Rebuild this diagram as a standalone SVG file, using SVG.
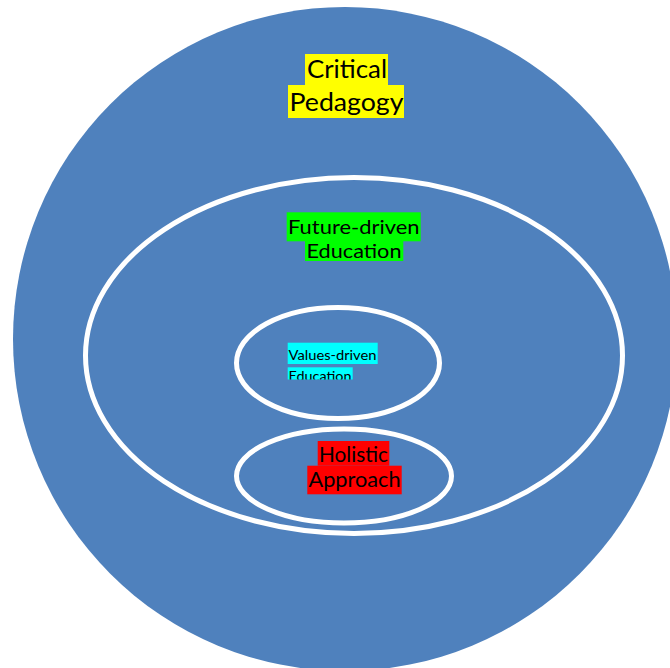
<svg xmlns="http://www.w3.org/2000/svg" width="670" height="668" viewBox="0 0 670 668">
<style>
.ring{fill:none;stroke:#ffffff;stroke-width:5}
.t{font-family:Lato,"Liberation Sans",sans-serif;fill:#000000}
</style>
<defs>
<clipPath id="vclip"><rect x="280" y="340" width="110" height="39.5"/></clipPath>
</defs>
<rect width="670" height="668" fill="#ffffff"/>
<g id="critical-pedagogy">
<circle cx="345" cy="339" r="332" fill="#4F81BD"/>
<rect x="305" y="54" width="83" height="31.5" fill="#FFFF00"/>
<rect x="288" y="85" width="116" height="33" fill="#FFFF00"/>
<text class="t" x="307" y="78" font-size="25.5" textLength="80" lengthAdjust="spacingAndGlyphs">Critical</text>
<text class="t" x="289.5" y="111" font-size="25.5" textLength="114" lengthAdjust="spacingAndGlyphs">Pedagogy</text>
</g>
<g id="future-driven-education">
<ellipse class="ring" cx="354" cy="355.5" rx="268.5" ry="178"/>
<rect x="286.7" y="212.3" width="134" height="29" fill="#00FF00"/>
<rect x="305" y="241" width="98.3" height="20" fill="#00FF00"/>
<text class="t" x="288" y="233.5" font-size="20" textLength="131.5" lengthAdjust="spacingAndGlyphs">Future-driven</text>
<text class="t" x="306.5" y="257.5" font-size="20" textLength="95" lengthAdjust="spacingAndGlyphs">Education</text>
</g>
<g id="values-driven-education">
<ellipse class="ring" cx="338" cy="363" rx="101.5" ry="55.5"/>
<rect x="287.7" y="342.7" width="90" height="21.3" fill="#00FFFF"/>
<g clip-path="url(#vclip)">
<rect x="287.7" y="367.3" width="65" height="20" fill="#00FFFF"/>
<text class="t" x="288.5" y="381" font-size="13.5" textLength="63" lengthAdjust="spacingAndGlyphs">Education</text>
</g>
<text class="t" x="288.5" y="359.5" font-size="13.5" textLength="88" lengthAdjust="spacingAndGlyphs">Values-driven</text>
</g>
<g id="holistic-approach">
<ellipse class="ring" cx="344" cy="476" rx="107.5" ry="47"/>
<rect x="317.7" y="441" width="71.6" height="24.7" fill="#FF0000"/>
<rect x="307.3" y="465.7" width="94.4" height="28.6" fill="#FF0000"/>
<text class="t" x="319" y="462" font-size="20.5" textLength="69" lengthAdjust="spacingAndGlyphs">Holistic</text>
<text class="t" x="308.5" y="487" font-size="20.5" textLength="92" lengthAdjust="spacingAndGlyphs">Approach</text>
</g>
</svg>
